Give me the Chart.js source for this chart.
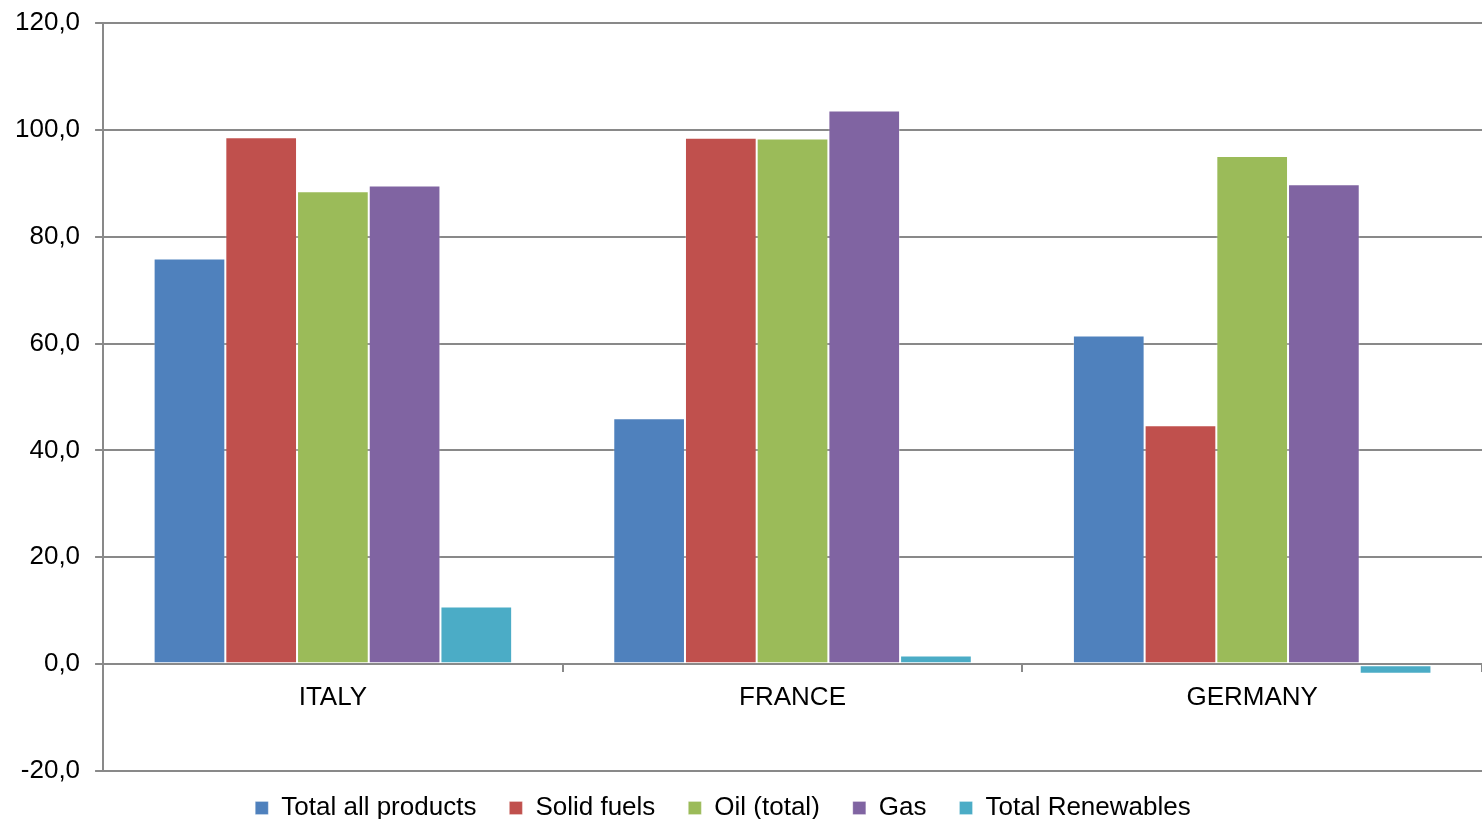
<!DOCTYPE html>
<html>
<head>
<meta charset="utf-8">
<script src="https://cdn.jsdelivr.net/npm/chart.js@4/dist/chart.umd.min.js"></script>
<style>
  html, body { margin: 0; padding: 0; background: #ffffff; }
  #wrap { position: relative; width: 1482px; height: 819px; }
</style>
</head>
<body>
<div id="wrap"><canvas id="chart" width="1482" height="819"></canvas></div>
<script>
// Countries on the category axis
const countries = ['ITALY', 'FRANCE', 'GERMANY'];

// Values per product group
const totalAllProducts = [75.9, 46.0, 61.5];
const solidFuels       = [98.6, 98.5, 44.7];
const oilTotal         = [88.5, 98.4, 95.1];
const gas              = [89.6, 103.6, 89.8];
const totalRenewables  = [10.8, 1.6, -1.8];

const seriesNames  = ['Total all products', 'Solid fuels', 'Oil (total)', 'Gas', 'Total Renewables'];
const seriesValues = [totalAllProducts, solidFuels, oilTotal, gas, totalRenewables];
const seriesColors = ['#4F81BD', '#C0504D', '#9BBB59', '#8064A2', '#4BACC6'];

// Value axis ticks
const yMin = -20, yMax = 120, yStep = 20;

const gridGrey = '#898989';
const fontFamily = '"Liberation Sans", Arial, sans-serif';
const fontSize = 26;

const datasets = seriesNames.map((name, i) => ({
  label: name,
  data: seriesValues[i],
  backgroundColor: seriesColors[i],
  borderColor: 'rgba(255,255,255,0.25)',
  borderWidth: 1,
  borderSkipped: false,
  categoryPercentage: 0.78,
  barPercentage: 1.0
}));

// Lets the legend row start a little higher and sit slightly left of centre
const legendShift = {
  id: 'legendShift',
  afterLayout(chart) {
    const lg = chart.legend;
    if (lg) {
      lg.top -= 9; lg.height += 9;
      lg.left -= 18; lg.right -= 18;
    }
  }
};

new Chart(document.getElementById('chart'), {
  type: 'bar',
  data: { labels: countries, datasets },
  plugins: [legendShift],
  options: {
    responsive: false,
    animation: false,
    devicePixelRatio: 1,
    layout: { padding: { top: 23, right: 0, left: 0, bottom: 0 } },
    plugins: {
      legend: {
        position: 'bottom',
        maxHeight: 48,
        labels: {
          boxWidth: 13,
          boxHeight: 13,
          padding: 33,
          color: '#000000',
          font: { family: fontFamily, size: fontSize }
        }
      },
      tooltip: { enabled: false }
    },
    scales: {
      x: {
        position: { y: 0 },
        offset: true,
        grid: {
          offset: true,
          drawOnChartArea: false,
          drawTicks: true,
          tickLength: 7,
          color: gridGrey,
          lineWidth: 2
        },
        border: { display: true, color: gridGrey, width: 2 },
        ticks: {
          color: '#000000',
          padding: 11,
          font: { family: fontFamily, size: fontSize }
        }
      },
      y: {
        min: yMin,
        max: yMax,
        afterFit(scale) { scale.paddingTop = 0; scale.paddingBottom = 0; },
        grid: {
          color: gridGrey,
          lineWidth: 2,
          drawTicks: true,
          tickLength: 8
        },
        border: { display: true, color: gridGrey, width: 2 },
        ticks: {
          stepSize: yStep,
          color: '#000000',
          padding: 15,
          font: { family: fontFamily, size: fontSize },
          callback: v => v.toFixed(1).replace('.', ',')
        }
      }
    }
  }
});
</script>
</body>
</html>
